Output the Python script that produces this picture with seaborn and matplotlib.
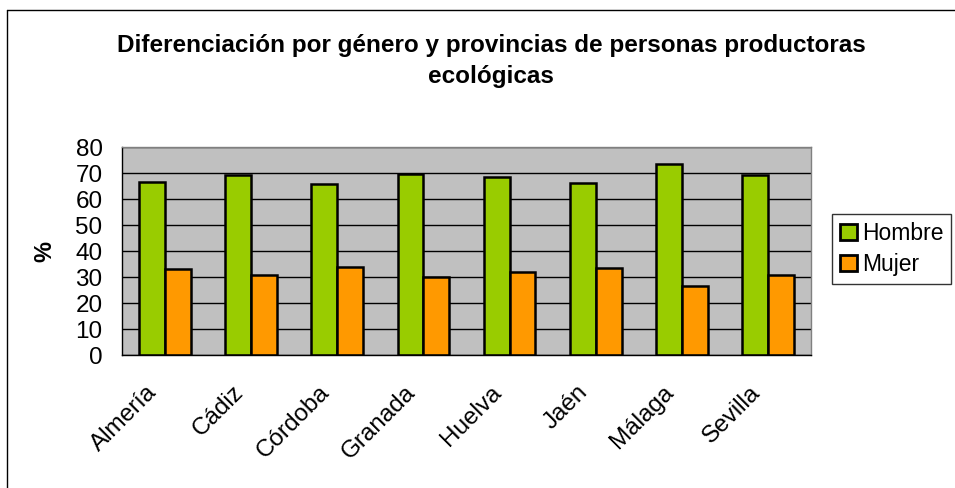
"""
Bar chart: gender split of organic producers by province (Andalucía).
"""

import numpy as np
import pandas as pd
import seaborn as sns
import matplotlib.pyplot as plt
import matplotlib.transforms as mtransforms
from matplotlib.lines import Line2D

# Data
PROVINCES = ["Almería", "Cádiz", "Córdoba", "Granada", "Huelva", "Jaén", "Málaga", "Sevilla"]
HOMBRE = [66.6, 69.1, 65.8, 69.6, 68.3, 66.3, 73.3, 69.3]
MUJER = [33.2, 30.8, 33.9, 30.1, 31.8, 33.6, 26.5, 30.6]
SERIES = ["Hombre", "Mujer"]
COLORS = ["#99CC00", "#FF9900"]
TITLE = "Diferenciación por género y provincias de personas productoras\necológicas"

W, H = 955, 488


def build_frame():
    """Long-form table for seaborn."""
    df = pd.DataFrame({"provincia": PROVINCES, "Hombre": HOMBRE, "Mujer": MUJER})
    return df.melt(id_vars="provincia", var_name="sexo", value_name="pct")


def main():
    sns.set_theme(style="white")
    plt.rcParams["font.family"] = ["Liberation Sans", "DejaVu Sans"]
    plt.rcParams["text.color"] = "black"
    plt.rcParams["xtick.color"] = "black"
    plt.rcParams["ytick.color"] = "black"
    plt.rcParams["axes.labelcolor"] = "black"

    fig = plt.figure(figsize=(W / 100, H / 100), dpi=100)
    ax = fig.add_axes([122 / W, 1 - 355 / H, (811 - 122) / W, (355 - 147) / H])

    df = build_frame()
    sns.barplot(
        data=df,
        x="provincia",
        y="pct",
        hue="sexo",
        hue_order=SERIES,
        palette=COLORS,
        width=0.6,
        edgecolor="black",
        linewidth=1.8,
        saturation=1,
        ax=ax,
        legend=True,
    )

    ax.set_facecolor("#C0C0C0")
    ax.set_ylim(0, 80)
    ax.set_xlim(-0.5, len(PROVINCES) - 0.5)
    ax.set_yticks(range(0, 81, 10))
    ax.yaxis.grid(True, color="black", linewidth=1)
    ax.set_axisbelow(True)

    for side in ["left", "bottom"]:
        ax.spines[side].set_color("black")
        ax.spines[side].set_linewidth(1)
    for side in ["top", "right"]:
        ax.spines[side].set_color("#808080")
        ax.spines[side].set_linewidth(1)

    # Category separators as ticks on the x axis
    ax.set_xticks(np.arange(-0.5, len(PROVINCES), 1), minor=True)
    ax.tick_params(axis="x", which="minor", length=5, width=1, color="black", direction="out")
    ax.tick_params(axis="x", which="major", length=0, pad=19)
    ax.tick_params(axis="y", length=5, width=1, color="black", direction="out",
                   labelsize=17.5, pad=9)
    ax.set_xticks(range(len(PROVINCES)))
    ax.set_xticklabels(PROVINCES, rotation=45, ha="right", va="top",
                       rotation_mode="anchor", fontsize=17.5)
    shift = mtransforms.ScaledTranslation(-19 / 100, 0, fig.dpi_scale_trans)
    for lbl in ax.get_xticklabels():
        lbl.set_transform(lbl.get_transform() + shift)

    ax.set_xlabel("")
    ax.set_ylabel("%", fontsize=17, fontweight="bold", labelpad=14)

    fig.text(491 / W, 1 - 61 / H, TITLE, ha="center", va="center",
             fontsize=17.5, fontweight="bold", linespacing=1.4)

    # Legend outside on the right
    handles, labels = ax.get_legend_handles_labels()
    ax.legend_.remove()
    leg = fig.legend(
        handles, labels,
        loc="upper left",
        bbox_to_anchor=(832 / W, 1 - 214 / H),
        frameon=True,
        fontsize=16.5,
        handlelength=0.75,
        handleheight=0.75,
        handletextpad=0.2,
        borderpad=0.35,
        labelspacing=0.35,
        borderaxespad=0,
    )
    leg.get_frame().set_edgecolor("black")
    leg.get_frame().set_linewidth(1)
    leg.get_frame().set_boxstyle("square", pad=0)
    for patch in leg.get_patches():
        patch.set_linewidth(2)

    # Chart area border (left and top edges visible)
    fig.add_artist(Line2D([7 / W, 7 / W], [0, 1 - 10 / H], color="black", linewidth=1,
                          transform=fig.transFigure))
    fig.add_artist(Line2D([7 / W, 1], [1 - 10 / H, 1 - 10 / H], color="black", linewidth=1,
                          transform=fig.transFigure))

    fig.savefig("out.png", dpi=100)
    plt.close(fig)


if __name__ == "__main__":
    main()
